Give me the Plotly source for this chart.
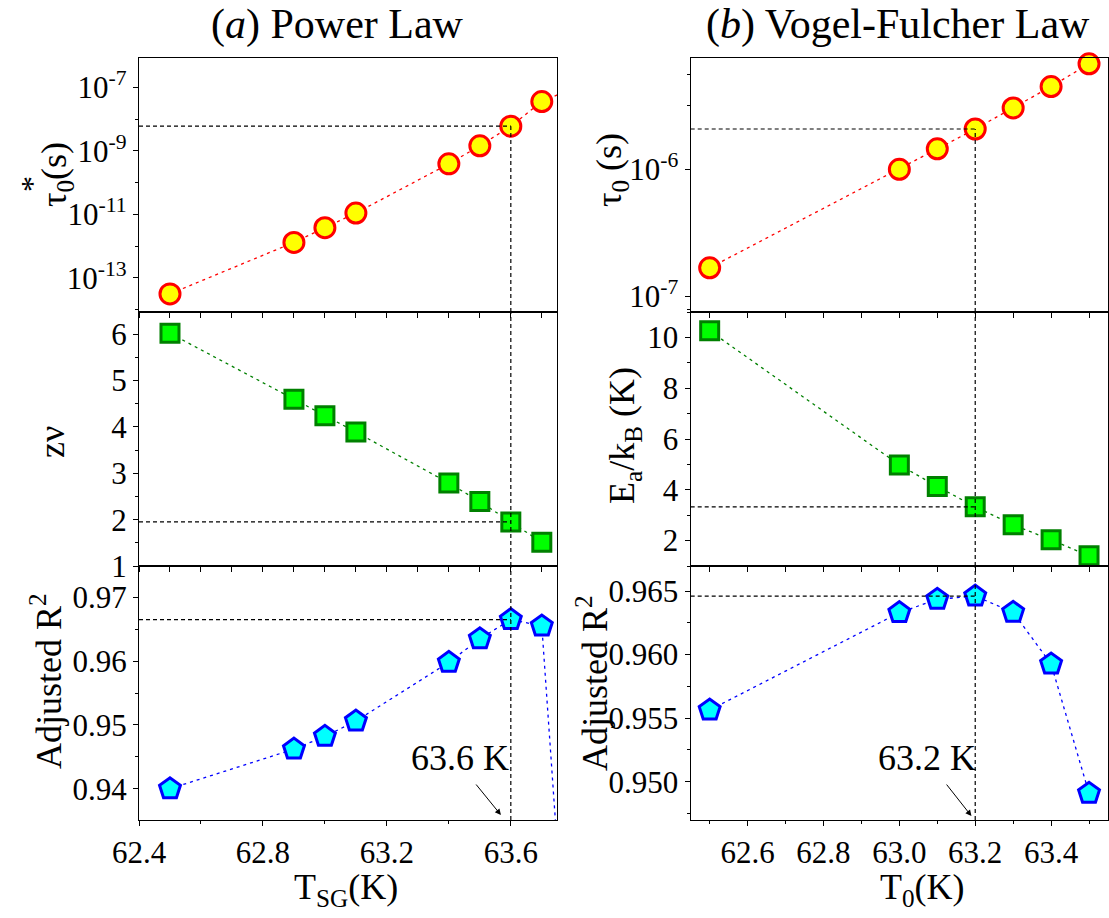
import plotly.graph_objects as go

# ---------------- data ----------------
T_sg = [62.5, 62.9, 63.0, 63.1, 63.4, 63.5, 63.6, 63.7]
T_sg_next = 63.8
tau_star = [3.1e-14, 1.3e-12, 3.8e-12, 1.1e-11, 3.9e-10, 1.45e-9, 6.0e-9, 3.6e-8]
tau_star_next = 9.5e-8
z_nu = [6.02, 4.60, 4.24, 3.89, 2.79, 2.39, 1.95, 1.51]
R2_pl = [0.9400, 0.9462, 0.9482, 0.9506, 0.9598, 0.9635, 0.9665, 0.9655]
R2_pl_next = 0.896
T_sg_best = 63.6

T0 = [62.5, 63.0, 63.1, 63.2, 63.3, 63.4, 63.5]
tau0 = [1.67e-7, 1.0e-6, 1.45e-6, 2.08e-6, 3.05e-6, 4.5e-6, 6.8e-6]
Ea_kB = [10.26, 4.98, 4.13, 3.33, 2.62, 2.03, 1.40]
R2_vf = [0.95564, 0.96330, 0.96435, 0.96460, 0.96333, 0.95926, 0.94909]
T0_best = 63.2

titles = ["(<i>a</i>) Power Law", "(<i>b</i>) Vogel-Fulcher Law"]
xtitles = ["T<sub>SG</sub>(K)", "T<sub>0</sub>(K)"]
ytitles = ["τ<sub>0</sub>(s)", "zν", "Adjusted R<sup>2</sup>",
           "τ<sub>0</sub> (s)", "E<sub>a</sub>/k<sub>B</sub> (K)", "Adjusted R<sup>2</sup>"]

# ---------------- layout geometry ----------------
W, H = 1109, 918
FONT = "Liberation Serif"
def px(x): return x / W
def py(y): return 1 - y / H

xl = [px(139), px(557.3)]
xr = [px(690.7), px(1108)]
rows_y = [[py(312), py(58.3)], [py(566), py(312)], [py(820), py(566)]]

xr_left = [62.4, 63.75]
xr_right = [62.45, 63.55]
y_ranges = {
    1: [-14.08, -6.08], 2: [1, 6.48], 3: [0.9351, 0.9749],
    4: [-7.126, -5.124], 5: [1, 11.0], 6: [0.94699, 0.96697],
}

fig = go.Figure()

RED, YEL = "#FF0000", "#FFFF00"
GRN_L, GRN_F = "#008000", "#00FF00"
BLU, CYA = "#0000FF", "#00FFFF"
DOT = "3px,4px"

def add_series(xs, ys, n, line_color, fill, edge, symbol, size, extra=None):
    lx, ly = list(xs), list(ys)
    if extra is not None:
        lx.append(extra[0]); ly.append(extra[1])
    fig.add_trace(go.Scatter(x=lx, y=ly, mode="lines", xaxis=f"x{n}", yaxis=f"y{n}",
                             line=dict(color=line_color, width=1.3, dash=DOT),
                             showlegend=False, hoverinfo="skip"))
    fig.add_trace(go.Scatter(x=xs, y=ys, mode="markers", xaxis=f"x{n}", yaxis=f"y{n}",
                             marker=dict(symbol=symbol, size=size, color=fill,
                                         line=dict(color=edge, width=3)),
                             cliponaxis=False, showlegend=False))

add_series(T_sg, tau_star, 1, RED, YEL, RED, "circle", 20, (T_sg_next, tau_star_next))
add_series(T_sg, z_nu, 2, GRN_L, GRN_F, GRN_L, "square", 18)
add_series(T_sg, R2_pl, 3, BLU, CYA, BLU, "pentagon", 22, (T_sg_next, R2_pl_next))
add_series(T0, tau0, 4, RED, YEL, RED, "circle", 20)
add_series(T0, Ea_kB, 5, GRN_L, GRN_F, GRN_L, "square", 18)
add_series(T0, R2_vf, 6, BLU, CYA, BLU, "pentagon", 22)

# reference dashed lines
def ref_lines(n, xsel, ysel, xmin, ylo, yhi):
    for xs, ys in (([xmin, xsel], [ysel, ysel]), ([xsel, xsel], [ylo, yhi])):
        fig.add_trace(go.Scatter(x=xs, y=ys, mode="lines",
                                 xaxis=f"x{n}", yaxis=f"y{n}",
                                 line=dict(color="black", width=1.2, dash="4px,3px"),
                                 showlegend=False, hoverinfo="skip"))

i_pl = T_sg.index(T_sg_best)
i_vf = T0.index(T0_best)
ref_lines(1, T_sg_best, tau_star[i_pl], xr_left[0], 10 ** y_ranges[1][0], tau_star[i_pl])
ref_lines(2, T_sg_best, z_nu[i_pl], xr_left[0], y_ranges[2][0], y_ranges[2][1])
ref_lines(3, T_sg_best, R2_pl[i_pl], xr_left[0], y_ranges[3][0], y_ranges[3][1])
ref_lines(4, T0_best, tau0[i_vf], xr_right[0], 10 ** y_ranges[4][0], tau0[i_vf])
ref_lines(5, T0_best, Ea_kB[i_vf], xr_right[0], y_ranges[5][0], y_ranges[5][1])
ref_lines(6, T0_best, R2_vf[i_vf], xr_right[0], y_ranges[6][0], y_ranges[6][1])

# ---------------- axes ----------------
tickfont = dict(family=FONT, size=31, color="black")
common = dict(showline=True, linecolor="black", linewidth=1.3, mirror=True,
              ticks="outside", ticklen=5, tickwidth=1.2, tickcolor="black",
              showgrid=False, zeroline=False, tickfont=tickfont, automargin=False)

lay = {}
for n in range(1, 7):
    col = 0 if n <= 3 else 1
    row = (n - 1) % 3
    xd = xl if col == 0 else xr
    xrng = xr_left if col == 0 else xr_right
    xa = dict(common, domain=xd, range=xrng, anchor=f"y{n}")
    if row < 2:
        xa.update(tickmode="linear", tick0=62.4 if col == 0 else 62.5, dtick=0.1,
                  showticklabels=False)
    else:
        if col == 0:
            xa.update(tickmode="linear", tick0=62.4, dtick=0.4, tickformat=".1f",
                      minor=dict(ticks="outside", ticklen=3, tickcolor="black",
                                 tick0=62.4, dtick=0.2, showgrid=False))
        else:
            xa.update(tickmode="linear", tick0=62.6, dtick=0.2, tickformat=".1f",
                      minor=dict(ticks="outside", ticklen=3, tickcolor="black",
                                 tick0=62.5, dtick=0.1, showgrid=False))
    lay[f"xaxis{n}"] = xa

    ya = dict(common, domain=rows_y[row], range=y_ranges[n], anchor=f"x{n}")
    if n == 1:
        ya.update(type="log", tickmode="array",
                  tickvals=[1e-13, 1e-11, 1e-9, 1e-7],
                  ticktext=["10<sup>-13</sup>", "10<sup>-11</sup>", "10<sup>-9</sup>", "10<sup>-7</sup>"],
                  minor=dict(ticks="outside", ticklen=3, tickcolor="black", tickmode="array",
                             tickvals=[1e-14, 1e-12, 1e-10, 1e-8], showgrid=False))
    elif n == 4:
        ya.update(type="log", tickmode="array",
                  tickvals=[1e-7, 1e-6],
                  ticktext=["10<sup>-7</sup>", "10<sup>-6</sup>"],
                  minor=dict(ticks="outside", ticklen=3, tickcolor="black", tickmode="array",
                             tickvals=[7.9e-8, 3.16e-6, 5.6e-6], showgrid=False))
    elif n == 2:
        ya.update(tickmode="linear", tick0=1, dtick=1,
                  minor=dict(ticks="outside", ticklen=3, tickcolor="black", dtick=0.5, showgrid=False))
    elif n == 3:
        ya.update(tickmode="linear", tick0=0.94, dtick=0.01, tickformat=".2f",
                  minor=dict(ticks="outside", ticklen=3, tickcolor="black", dtick=0.005, showgrid=False))
    elif n == 5:
        ya.update(tickmode="linear", tick0=2, dtick=2,
                  minor=dict(ticks="outside", ticklen=3, tickcolor="black", dtick=1, showgrid=False))
    elif n == 6:
        ya.update(tickmode="linear", tick0=0.95, dtick=0.005, tickformat=".3f",
                  minor=dict(ticks="outside", ticklen=3, tickcolor="black", dtick=0.0025, showgrid=False))
    lay[f"yaxis{n}"] = ya

# ---------------- annotations ----------------
ann = []
bigfont = dict(family=FONT, size=42, color="black")
labfont = dict(family=FONT, size=36, color="black")
ann.append(dict(text=titles[0], x=px(337), y=py(25), xref="paper", yref="paper",
                showarrow=False, font=bigfont, xanchor="center", yanchor="middle"))
ann.append(dict(text=titles[1], x=px(898), y=py(25), xref="paper", yref="paper",
                showarrow=False, font=bigfont, xanchor="center", yanchor="middle"))
ann.append(dict(text=xtitles[0], x=px(346), y=py(889), xref="paper", yref="paper",
                showarrow=False, font=labfont, xanchor="center", yanchor="middle"))
ann.append(dict(text=xtitles[1], x=px(922), y=py(889), xref="paper", yref="paper",
                showarrow=False, font=labfont, xanchor="center", yanchor="middle"))

ypos = [(56, 175), (52, 442), (46, 681), (612, 170), (625, 436), (592, 683)]
for t, (xx, yy) in zip(ytitles, ypos):
    ann.append(dict(text=t, x=px(xx), y=py(yy), xref="paper", yref="paper",
                    showarrow=False, font=labfont, textangle=-90,
                    xanchor="center", yanchor="middle"))
# the star above the subscript in the top-left label
ann.append(dict(text="*", x=px(12), y=py(184), xref="paper", yref="paper",
                showarrow=False, font=dict(family=FONT, size=32, color="black"),
                textangle=-90, xanchor="left", yanchor="middle"))

# "63.6 K" and "63.2 K" labels with arrows
ann.append(dict(text=f"{T_sg_best:.1f} K", x=T_sg_best, y=0.9448, xref="x3", yref="y3",
                showarrow=False, font=labfont, xanchor="right", yanchor="middle"))
ann.append(dict(text="", x=T_sg_best - 0.032, y=0.93588, xref="x3", yref="y3",
                showarrow=True, ax=-26, ay=-32, arrowhead=2, arrowsize=1.2,
                arrowwidth=1, arrowcolor="black"))
ann.append(dict(text=f"{T0_best:.1f} K", x=T0_best + 0.006, y=0.95186, xref="x6", yref="y6",
                showarrow=False, font=labfont, xanchor="right", yanchor="middle"))
ann.append(dict(text="", x=T0_best - 0.010, y=0.9473, xref="x6", yref="y6",
                showarrow=True, ax=-26, ay=-33, arrowhead=2, arrowsize=1.2,
                arrowwidth=1, arrowcolor="black"))

fig.update_layout(width=W, height=H, margin=dict(l=0, r=0, t=0, b=0, autoexpand=False),
                  paper_bgcolor="white", plot_bgcolor="white",
                  font=dict(family=FONT, color="black"),
                  annotations=ann, showlegend=False, **lay)

fig.write_html("out.html")
